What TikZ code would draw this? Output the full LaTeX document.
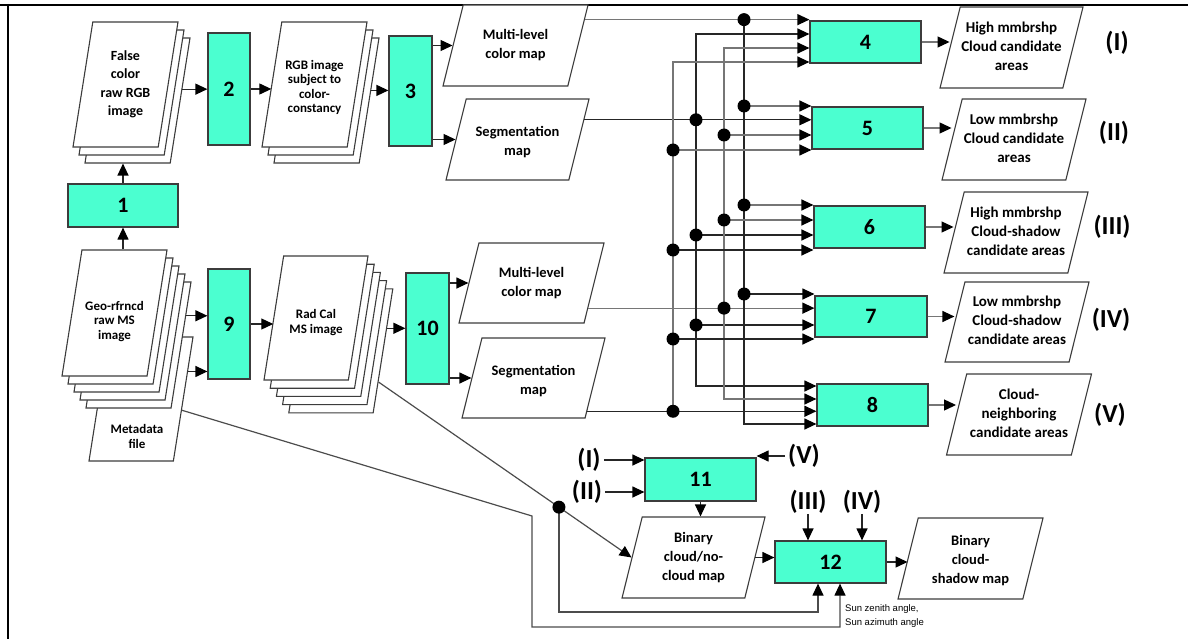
\documentclass[tikz,border=0pt]{standalone}
\usepackage{fontspec}
\setmainfont{Carlito}
\newfontfamily\sunfont{Liberation Sans}
\usetikzlibrary{shapes.geometric,arrows.meta,calc}
\definecolor{aqua}{RGB}{75,255,208}
\definecolor{lineg}{RGB}{118,118,118}
\definecolor{edgeg}{RGB}{60,60,60}
\pgfdeclarelayer{fg}
\pgfsetlayers{main,fg}
% fixed-height, zero-width text block: #1 height, #2 extra downward shift (x2), #3 lines
\newcommand{\ptx}[3]{\vbox to #1{\vss\vskip#2\hbox to 0pt{\hss\begin{tabular}{@{}c@{}}#3\end{tabular}\hss}\vss}}
\tikzset{
  proc/.style={draw=edgeg, line width=1.2pt, fill=aqua, inner sep=0pt,
    font=\bfseries\fontsize{22}{24}\selectfont},
  para/.style={trapezium, trapezium left angle=76, trapezium right angle=104,
    trapezium stretches body=true, draw=edgeg, line width=1.1pt, fill=white,
    inner sep=0pt, minimum width=145pt,
    font=\bfseries\fontsize{14.5}{19}\selectfont},
  res/.style={para, font=\bfseries\fontsize{15}{19}\selectfont},
  sheet/.style={para, trapezium left angle=81, trapezium right angle=99,
    minimum width=105pt, font=\bfseries\fontsize{14}{18.5}\selectfont},
  smalltext/.style={font=\bfseries\fontsize{13}{14.5}\selectfont},
  dot/.style={circle, fill=black, inner sep=0pt, minimum size=13pt},
  conn/.style={line width=1.2pt, draw=black!85},
  arr/.style={conn, -{Triangle[length=12pt,width=11pt,color=black]}},
  darr/.style={conn, {Triangle[length=12pt,width=11pt,color=black]}-{Triangle[length=12pt,width=11pt,color=black]}},
  roman/.style={inner sep=0pt, font=\bfseries\fontsize{26}{28}\selectfont},
}
\begin{document}
\begin{tikzpicture}[x=1pt,y=-1pt]
\useasboundingbox (0,0) rectangle (1188,639);
% frame
\draw[line width=2.2pt] (0,5) -- (60,5);
\draw[line width=1.2pt] (60,5) -- (1146,5);
\draw[line width=2.2pt] (1146,5) -- (1188,5);
\draw[line width=2.2pt] (8,4) -- (8,639);

% stacks
\foreach \i in {2,1} {\node[sheet] (fc\i) at ({125.5+6*\i},{84.5+8*\i}) {\ptx{125pt}{0pt}{}};}
\node[sheet] (fc0) at (125.5,84.5) {\ptx{125pt}{0pt}{False\\color\\raw RGB\\image}};
\foreach \i in {2,1} {\node[sheet] (rg\i) at ({314.5+6*\i},{84.5+8*\i}) {\ptx{125pt}{0pt}{}};}
\node[sheet, smalltext] (rg0) at (314.5,84.5) {\ptx{125pt}{7pt}{RGB image\\subject to\\color-\\constancy}};

\node[sheet, minimum width=104pt] (meta) at (141,399) {\ptx{124pt}{0pt}{}};
\node[smalltext, inner sep=0pt] (metaTxt) at (137,438) {\begin{tabular}{@{}c@{}}Metadata\\file\end{tabular}};
\foreach \i in {4,3,2,1} {\node[sheet] (ge\i) at ({114.5+6*\i},{313+8*\i}) {\ptx{126pt}{0pt}{}};}
\node[sheet, smalltext] (ge0) at (114.5,313) {\ptx{126pt}{18pt}{Geo-rfrncd\\raw MS\\image}};
\foreach \i in {4,3,2,1} {\node[sheet, minimum width=104pt] (rc\i) at ({316+6.2*\i},{318+8.2*\i}) {\ptx{124pt}{0pt}{}};}
\node[sheet, smalltext, minimum width=104pt] (rc0) at (316,318) {\ptx{124pt}{10pt}{Rad Cal\\MS image}};

% process boxes
\node[proc, minimum width=110pt, minimum height=43pt] (b1) at (123,205.5) {1};
\node[proc, minimum width=42pt, minimum height=112pt] (b2) at (229,89) {2};
\node[proc, minimum width=43pt, minimum height=110pt] (b3) at (410.5,91) {3};
\node[proc, minimum width=111pt, minimum height=42pt] (b4) at (865.5,42) {4};
\node[proc, minimum width=111pt, minimum height=42pt] (b5) at (867.5,128) {5};
\node[proc, minimum width=111pt, minimum height=42pt] (b6) at (869.5,227) {6};
\node[proc, minimum width=112pt, minimum height=41pt] (b7) at (871,316.5) {7};
\node[proc, minimum width=111pt, minimum height=42pt] (b8) at (872.5,405) {8};
\node[proc, minimum width=42pt, minimum height=110pt] (b9) at (229,324) {9};
\node[proc, minimum width=43pt, minimum height=111pt] (b10) at (427.5,328.5) {10};
\node[proc, minimum width=111pt, minimum height=43pt] (b11) at (700.5,479.5) {11};
\node[proc, minimum width=111pt, minimum height=42pt] (b12) at (830.5,562) {12};

% data parallelograms
\node[para] (mlTop) at (515.5,45.5) {\ptx{81pt}{0pt}{Multi-level\\color map}};
\node[para, minimum width=143pt] (segTop) at (517.5,139.5) {\ptx{81pt}{6pt}{Segmentation\\map}};
\node[para] (mlBot) at (531.5,283) {\ptx{80pt}{0pt}{Multi-level\\color map}};
\node[para, minimum width=143pt] (segBot) at (533.5,378) {\ptx{80pt}{6pt}{Segmentation\\map}};
\node[res, minimum width=143pt] (pI) at (1011.5,47.5) {\ptx{81pt}{0pt}{High mmbrshp\\Cloud candidate\\areas}};
\node[res, minimum width=144pt] (pII) at (1014,139.5) {\ptx{81pt}{0pt}{Low mmbrshp\\Cloud candidate\\areas}};
\node[res, minimum width=144pt] (pIII) at (1016,232.5) {\ptx{81pt}{0pt}{High mmbrshp\\Cloud-shadow\\candidate areas}};
\node[res, minimum width=144pt] (pIV) at (1017,322) {\ptx{80pt}{0pt}{Low mmbrshp\\Cloud-shadow\\candidate areas}};
\node[res] (pV) at (1019,414.5) {\ptx{81pt}{0pt}{Cloud-\\neighboring\\candidate areas}};
\node[para, minimum width=143pt] (bin) at (693.5,557.5) {\ptx{81pt}{0pt}{Binary\\cloud/no-\\cloud map}};
\node[para] (binS) at (970.5,558.5) {\ptx{81pt}{4pt}{Binary\\cloud-\\shadow map}};

% labels
\node[roman] (rI) at (1117,43) {(I)};
\node[roman] (rII) at (1114,133) {(II)};
\node[roman] (rIII) at (1112,227) {(III)};
\node[roman] (rIV) at (1111,320) {(IV)};
\node[roman] (rV) at (1110,415) {(V)};
\node[roman] (lI) at (589,460) {(I)};
\node[roman] (lII) at (587,492) {(II)};
\node[roman] (lV) at (804,456) {(V)};
\node[roman] (lIII) at (808,502) {(III)};
\node[roman] (lIV) at (862,502) {(IV)};
\node[font=\sunfont\fontsize{9.5}{14}\selectfont, align=left, anchor=west, inner sep=0pt] (sun) at (845,616) {Sun zenith angle,\\Sun azimuth angle};

% helper coordinates
\coordinate (xA) at (744,0);
\coordinate (xB) at (696,0);
\coordinate (xC) at (724,0);
\coordinate (xD) at (673,0);
\coordinate (rowA) at (0,612);
\coordinate (rowB) at (0,627);
\coordinate (metaBend) at (532,516);
\coordinate (mlTopOut) at ($(mlTop.top right corner)!0.185!(mlTop.bottom right corner)$);
\coordinate (segTopOut) at ($(segTop.top right corner)!0.26!(segTop.bottom right corner)$);
\coordinate (mlBotOut) at ($(mlBot.top right corner)!0.81!(mlBot.bottom right corner)$);
\coordinate (segBotOut) at ($(segBot.top right corner)!0.91!(segBot.bottom right corner)$);
\coordinate (rcOut) at ($(rc4.top right corner)!0.75!(rc4.bottom right corner)$);
\coordinate (rcOut2) at ($(rc4.top right corner)!0.32!(rc4.bottom right corner)$);
\coordinate (metaOut) at ($(meta.top right corner)!0.59!(meta.bottom right corner)$);
\coordinate (metaIn) at ($(meta.top right corner)!0.28!(meta.bottom right corner)$);
\coordinate (geOut) at ($(ge4.top right corner)!0.27!(ge4.bottom right corner)$);
\coordinate (fcOut) at ($(fc2.top right corner)!0.41!(fc2.bottom right corner)$);
\coordinate (rgOut) at ($(rg2.top right corner)!0.42!(rg2.bottom right corner)$);
\coordinate (b12s1) at ([xshift=-12.5pt]b12.south);
\coordinate (b12s2) at ([xshift=9.5pt]b12.south);

\coordinate (b4B) at ([yshift=8pt]b4.west);
\coordinate (b4C) at ([yshift=-6pt]b4.west);
\coordinate (b4D) at ([yshift=-20pt]b4.west);
\coordinate (b5A) at ([yshift=22pt]b5.west);
\coordinate (b5C) at ([yshift=-7pt]b5.west);
\coordinate (b5D) at ([yshift=-22pt]b5.west);
\coordinate (b6A) at ([yshift=22pt]b6.west);
\coordinate (b6C) at ([yshift=7pt]b6.west);
\coordinate (b6B) at ([yshift=-8pt]b6.west);
\coordinate (b6D) at ([yshift=-23pt]b6.west);
\coordinate (b7A) at ([yshift=22.5pt]b7.west);
\coordinate (b7B) at ([yshift=-8.5pt]b7.west);
\coordinate (b7D) at ([yshift=-22.5pt]b7.west);
\coordinate (b8B) at ([yshift=19pt]b8.west);
\coordinate (b8C) at ([yshift=6pt]b8.west);
\coordinate (b8A) at ([yshift=-19pt]b8.west);

% junction dots
\begin{pgfonlayer}{fg}
\node[dot] (dA1) at (xA |- mlTopOut) {};
\node[dot] (dA2) at (xA |- b5A) {};
\node[dot] (dA3) at (xA |- b6A) {};
\node[dot] (dA4) at (xA |- b7A) {};
\node[dot] (dB1) at (xB |- segTopOut) {};
\node[dot] (dB2) at (xB |- b6B) {};
\node[dot] (dB3) at (xB |- b7B) {};
\node[dot] (dC1) at (xC |- b5C) {};
\node[dot] (dC2) at (xC |- b6C) {};
\node[dot] (dC3) at (xC |- mlBotOut) {};
\node[dot] (dD1) at (xD |- b5D) {};
\node[dot] (dD2) at (xD |- b6D) {};
\node[dot] (dD3) at (xD |- b7D) {};
\node[dot] (dD4) at (xD |- segBotOut) {};
\node[dot] (dRC) at ($(rcOut)!0.713!(bin.west)$) {};
\end{pgfonlayer}

% main flow
\draw[arr] (b1.north) -- (b1.north |- fc2.south);
\draw[arr] (b1.south |- ge0.north) -- (b1.south);
\draw[arr] (fcOut) -- (fcOut -| b2.west);
\draw[arr] (b2.east) -- (b2.east -| rg0.west);
\draw[arr] (rgOut) -- (rgOut -| b3.west);
\draw[arr] (b3.east |- mlTop.west) -- (mlTop.west);
\draw[arr] (b3.east |- segTop.west) -- (segTop.west);
\draw[arr] (geOut) -- (geOut -| b9.west);
\draw[arr] (metaIn) -- (metaIn -| b9.west);
\draw[arr] (b9.east) -- (b9.east -| rc0.west);
\draw[arr] (rcOut2) -- (rcOut2 -| b10.west);
\draw[arr] (b10.east |- mlBot.west) -- (mlBot.west);
\draw[arr] (b10.east |- segBot.west) -- (segBot.west);

% sources to buses
\draw[arr, draw=lineg] (mlTopOut) -- (mlTopOut -| b4.west);
\draw[arr] (segTopOut) -- (segTopOut -| b5.west);
\draw[arr, draw=lineg] (mlBotOut) -- (mlBotOut -| b7.west);
\draw[arr] (segBotOut) -- (segBotOut -| b8.west);
% bus A
\draw[arr] (dA1.center) -- (xA |- b8A) -- (b8A);
\draw[arr, draw=lineg] (dA2.center) -- (b5A);
\draw[arr, draw=lineg] (dA3.center) -- (b6A);
\draw[arr] (dA4.center) -- (b7A);
% bus B
\draw[darr] (b4B) -- (xB |- b4B) -- (xB |- b8B) -- (b8B);
\draw[arr] (dB2.center) -- (b6B);
\draw[arr] (dB3.center) -- (b7B);
% bus C
\draw[darr, draw=lineg] (b4C) -- (xC |- b4C) -- (xC |- b8C) -- (b8C);
\draw[arr, draw=lineg] (dC1.center) -- (b5C);
\draw[arr, draw=lineg] (dC2.center) -- (b6C);
% bus D
\draw[arr, draw=lineg] (dD4.center) -- (xD |- b4D) -- (b4D);
\draw[arr, draw=lineg] (dD1.center) -- (b5D);
\draw[arr] (dD2.center) -- (b6D);
\draw[arr] (dD3.center) -- (b7D);

% boxes to results
\draw[arr, draw=lineg] (b4.east) -- (b4.east -| pI.west);
\draw[arr, draw=lineg] (b5.east) -- (b5.east -| pII.west);
\draw[arr, draw=lineg] (b6.east) -- (b6.east -| pIII.west);
\draw[arr, draw=lineg] (b7.east) -- (b7.east -| pIV.west);
\draw[arr, draw=lineg] (b8.east) -- (b8.east -| pV.west);

% bottom part
\draw[arr] ([xshift=3pt]lI.east) -- (lI.east -| b11.west);
\draw[arr] ([xshift=3pt]lII.east) -- (lII.east -| b11.west);
\draw[arr] ([xshift=-3pt]lV.west) -- (lV.west -| b11.east);
\draw[arr] (b11.south) -- (b11.south |- bin.north);
\draw[arr] (bin.east) -- (bin.east -| b12.west);
\draw[arr] (lIII.south) -- (lIII.south |- b12.north);
\draw[arr] (lIV.south) -- (lIV.south |- b12.north);
\draw[arr] (b12.east) -- (b12.east -| binS.west);
\draw[arr, draw=black!70] (rcOut) -- (bin.west);
\draw[arr, draw=black!70] (dRC.center) -- (dRC |- rowA) -- (b12s1 |- rowA) -- (b12s1);
\draw[arr, draw=black!70] (metaOut) -- (metaBend) -- (metaBend |- rowB) -- (b12s2 |- rowB) -- (b12s2);
\end{tikzpicture}
\end{document}
